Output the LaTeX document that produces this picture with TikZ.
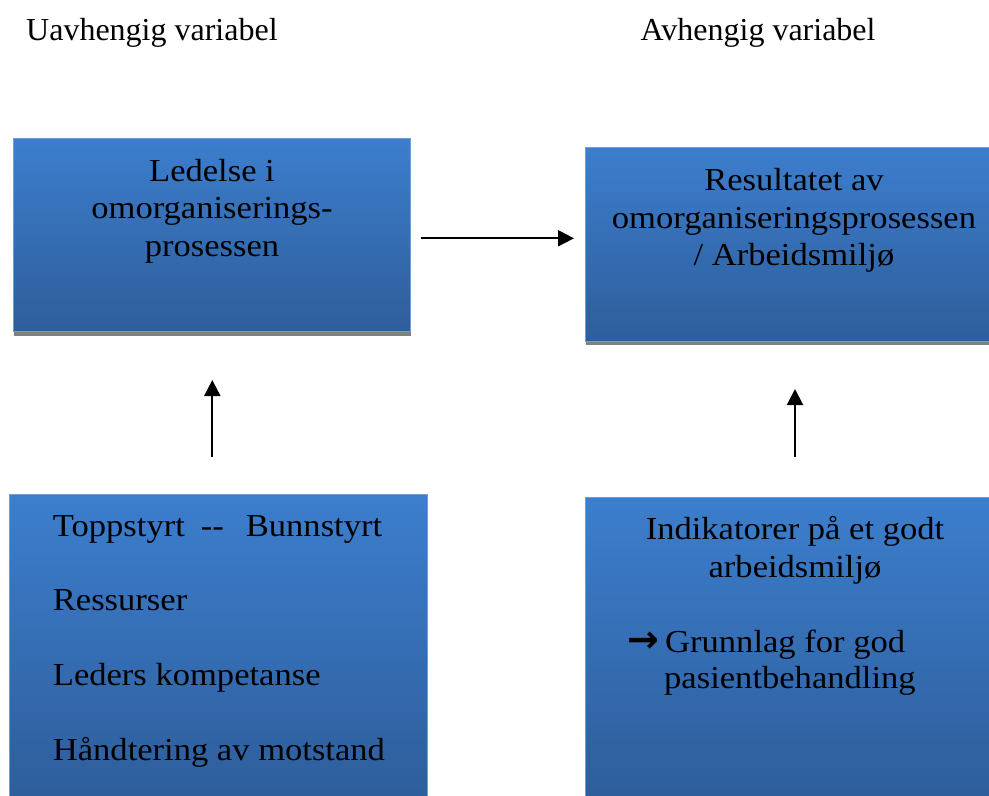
\documentclass[tikz,border=0pt]{standalone}
\usepackage{fontspec}
\setmainfont{Liberation Serif}
\newfontfamily\boxfont[FakeStretch=1.08]{Liberation Serif}
\newfontfamily\symfont{DejaVu Sans}
\usetikzlibrary{arrows.meta,shadows}
\definecolor{boxtop}{RGB}{60,126,205}
\definecolor{boxbot}{RGB}{46,93,154}
\definecolor{boxedge}{RGB}{110,158,216}
\definecolor{shadowgray}{RGB}{128,128,128}
\tikzset{
  bluebox/.style={rectangle, inner sep=0pt, outer sep=0pt,
    top color=boxtop, bottom color=boxbot, draw=boxedge, line width=0.8pt},
  shadowed/.style={drop shadow={shadow xshift=0.6pt, shadow yshift=-4pt, fill=shadowgray, opacity=1}},
  btext/.style={font=\boxfont\fontsize{32}{38}\selectfont, inner sep=0pt, anchor=base},
  btextl/.style={btext, anchor=base west},
  htext/.style={font=\fontsize{32}{38}\selectfont, inner sep=0pt, anchor=base west},
  conn/.style={line width=2pt, -{Triangle[length=16pt,width=16pt]}}
}
\begin{document}
\begin{tikzpicture}[x=1pt,y=-1pt]
\useasboundingbox (0,0) rectangle (989,796);
% headings
\node[htext] (h1) at (26,40) {Uavhengig variabel};
\node[htext] (h2) at (640.5,40) {Avhengig variabel};
% boxes
\node[bluebox, shadowed, minimum width=397.4pt, minimum height=193.4pt] (A) at (212,235) {};
\node[bluebox, shadowed, minimum width=407pt, minimum height=193.7pt] (B) at (788.5,244.2) {};
\node[bluebox, minimum width=418pt, minimum height=306pt] (C) at (218.4,647.3) {};
\node[bluebox, minimum width=407pt, minimum height=303pt] (D) at (788.5,648.8) {};
% box A text
\node[btext] (a1) at (212,181.7) {Ledelse i};
\node[btext] (a2) at (212,218.5) {omorganiserings-};
\node[btext] (a3) at (212,256.5) {prosessen};
% box B text
\node[btext] (b1) at (794,190) {Resultatet av};
\node[btext] (b2) at (794,228) {omorganiseringsprosessen};
\node[btext] (b3) at (794,265.5) {/ Arbeidsmiljø};
% box C text
\node[btextl] (c1) at (52.7,536.7) {Toppstyrt\hspace{16pt}-{}-\hspace{22pt}Bunnstyrt};
\node[btextl] (c2) at (52.7,610) {Ressurser};
\node[btextl] (c3) at (52.7,685) {Leders kompetanse};
\node[btextl] (c4) at (52.7,760) {Håndtering av motstand};
% box D text
\node[btext] (d1) at (795,539) {Indikatorer på et godt};
\node[btext] (d2) at (795,577) {arbeidsmiljø};
\node[inner sep=0pt, font=\symfont\bfseries\fontsize{38}{42}\selectfont] (d3) at (643,642.5) {→};
\node[btextl] (d4) at (665,652) {Grunnlag for god};
\node[btextl] (d5) at (664,688) {pasientbehandling};
% connectors
\coordinate (hs) at (420.7,238.3);
\coordinate (he) at (574,238.3);
\coordinate (ls) at (212.3,457);
\coordinate (le) at (212.3,380);
\coordinate (rs) at (795,457);
\coordinate (re) at (795,389);
\draw[conn] (hs) -- (he);
\draw[conn] (ls) -- (le);
\draw[conn] (rs) -- (re);
\end{tikzpicture}
\end{document}
